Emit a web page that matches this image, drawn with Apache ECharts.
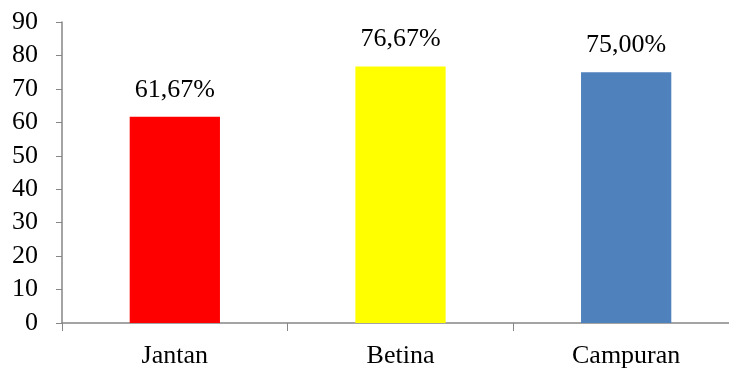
<!DOCTYPE html>
<html>
<head>
<meta charset="utf-8">
<script src="https://cdn.jsdelivr.net/npm/echarts@6/dist/echarts.min.js"></script>
<style>
  html, body { margin: 0; padding: 0; background: #fff; overflow: hidden; }
  #chart { width: 739px; height: 369px; }
</style>
</head>
<body>
<div id="chart"></div>
<script>
var categories = ['Jantan', 'Betina', 'Campuran'];
var values = [61.67, 76.67, 75.00];
var barColors = ['#FF0000', '#FFFF00', '#4F81BD'];

// the plot runs past the right edge of the window, as in the original
var chartDom = document.getElementById('chart');
var myChart = echarts.init(chartDom);
var font = '"Liberation Serif", "Times New Roman", serif';

var option = {
  animation: false,
  grid: { left: 62, right: 0, top: 22, bottom: 45 },
  xAxis: {
    type: 'category',
    data: categories,
    axisLine: { lineStyle: { color: '#868686', width: 1.5 } },
    axisTick: { show: true, length: 8, lineStyle: { color: '#868686' } },
    axisLabel: { color: '#000', fontFamily: font, fontSize: 26, margin: 20 }
  },
  yAxis: {
    type: 'value',
    min: 0,
    max: 90,
    interval: 10,
    splitLine: { show: false },
    axisLine: { show: true, lineStyle: { color: '#868686', width: 1.5 } },
    axisTick: { show: true, length: 6, lineStyle: { color: '#868686' } },
    axisLabel: { color: '#000', fontFamily: font, fontSize: 26, margin: 24 }
  },
  series: [{
    type: 'bar',
    barWidth: '40%',
    data: values.map(function (v, i) {
      return { value: v, itemStyle: { color: barColors[i] } };
    }),
    label: {
      show: true,
      position: 'top',
      distance: 14,
      color: '#000',
      fontFamily: font,
      fontSize: 26,
      formatter: function (p) {
        return p.value.toFixed(2).replace('.', ',') + '%';
      }
    }
  }]
};

option && myChart.setOption(option);
</script>
</body>
</html>
